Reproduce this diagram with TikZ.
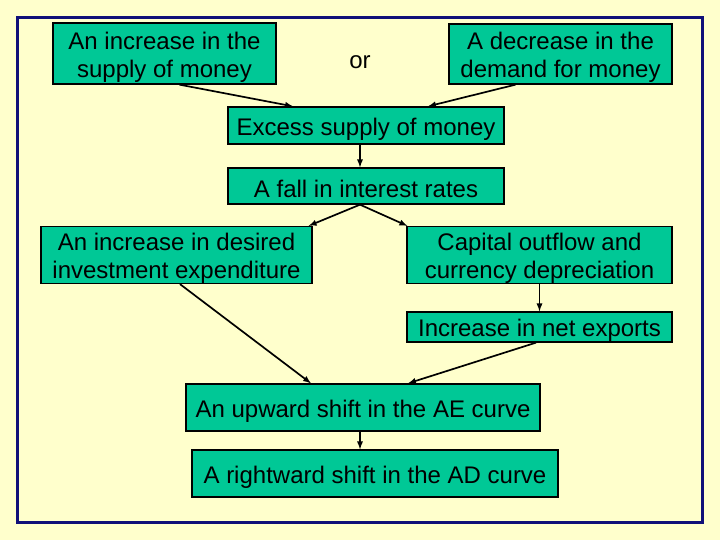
\documentclass[tikz,border=0pt]{standalone}
\usepackage{fontspec}
\setmainfont{Liberation Sans}
\usetikzlibrary{shapes,arrows,positioning}

\definecolor{paper}{RGB}{255,255,204}
\definecolor{frameblue}{RGB}{16,16,120}
\definecolor{boxgreen}{RGB}{0,200,150}
\newcommand{\topstrut}{\rule{0pt}{24pt}}

\begin{document}
\begin{tikzpicture}[x=1pt, y=-1pt, >=latex,
	box/.style={draw=black, line width=1.3pt, fill=boxgreen, align=center, inner sep=0pt, font=\fontsize{24}{28}\selectfont},
	link/.style={->, line width=1.7pt}]
	\fill[paper] (0,0) rectangle (720,540);
	\useasboundingbox (0,0) rectangle (720,540);
	\draw[color=frameblue, line width=3pt] (17,18) rectangle (702,522);
	% money market
	\node[box, minimum width=223pt, minimum height=61pt] (incsupply) at (164.5,53.5) {\topstrut An increase in the\\supply of money};
	\node[box, minimum width=223pt, minimum height=60pt] (decdemand) at (560.5,54) {\topstrut A decrease in the\\demand for money};
	\node[font=\fontsize{24}{28}\selectfont] (or) at (360,62) {or};
	\node[box, minimum width=276pt, minimum height=37pt] (excess) at (366,125.5) {\topstrut Excess supply of money};
	\node[box, minimum width=276pt, minimum height=36pt] (fall) at (366,186) {\topstrut A fall in interest rates};
	% two channels
	\node[box, minimum width=271pt, minimum height=54pt] (invest) at (176.5,255) {\topstrut An increase in desired\\investment expenditure};
	\node[box, minimum width=265pt, minimum height=54pt] (capital) at (539.5,255) {\topstrut Capital outflow and\\currency depreciation};
	\node[box, minimum width=265pt, minimum height=30pt] (netexp) at (539.5,327) {\topstrut Increase in net exports};
	% aggregate demand
	\node[box, minimum width=354pt, minimum height=47pt] (aeshift) at (363,407.5) {\topstrut An upward shift in the AE curve};
	\node[box, minimum width=366pt, minimum height=47pt] (adshift) at (375,473.5) {\topstrut A rightward shift in the AD curve};

	\draw[link] ([xshift=15pt]incsupply.south) -- ([xshift=-73pt]excess.north);
	\draw[link] ([xshift=-45pt]decdemand.south) -- ([xshift=62pt]excess.north);
	\draw[link] ([xshift=-6pt]excess.south) -- ([xshift=-6pt]fall.north);
	\draw[link] ([xshift=-6pt]fall.south) -- ([xshift=-4pt]invest.north east);
	\draw[link] ([xshift=-6pt]fall.south) -- ([xshift=1pt]capital.north west);
	\draw[link] (capital.south) -- (netexp.north);
	\draw[link] ([xshift=3.5pt]invest.south) -- ([xshift=-52pt]aeshift.north);
	\draw[link] ([xshift=-3.5pt]netexp.south) -- ([xshift=45pt]aeshift.north);
	\draw[link] ([xshift=-3pt]aeshift.south) -- ([xshift=-15pt]adshift.north);
\end{tikzpicture}
\end{document}
